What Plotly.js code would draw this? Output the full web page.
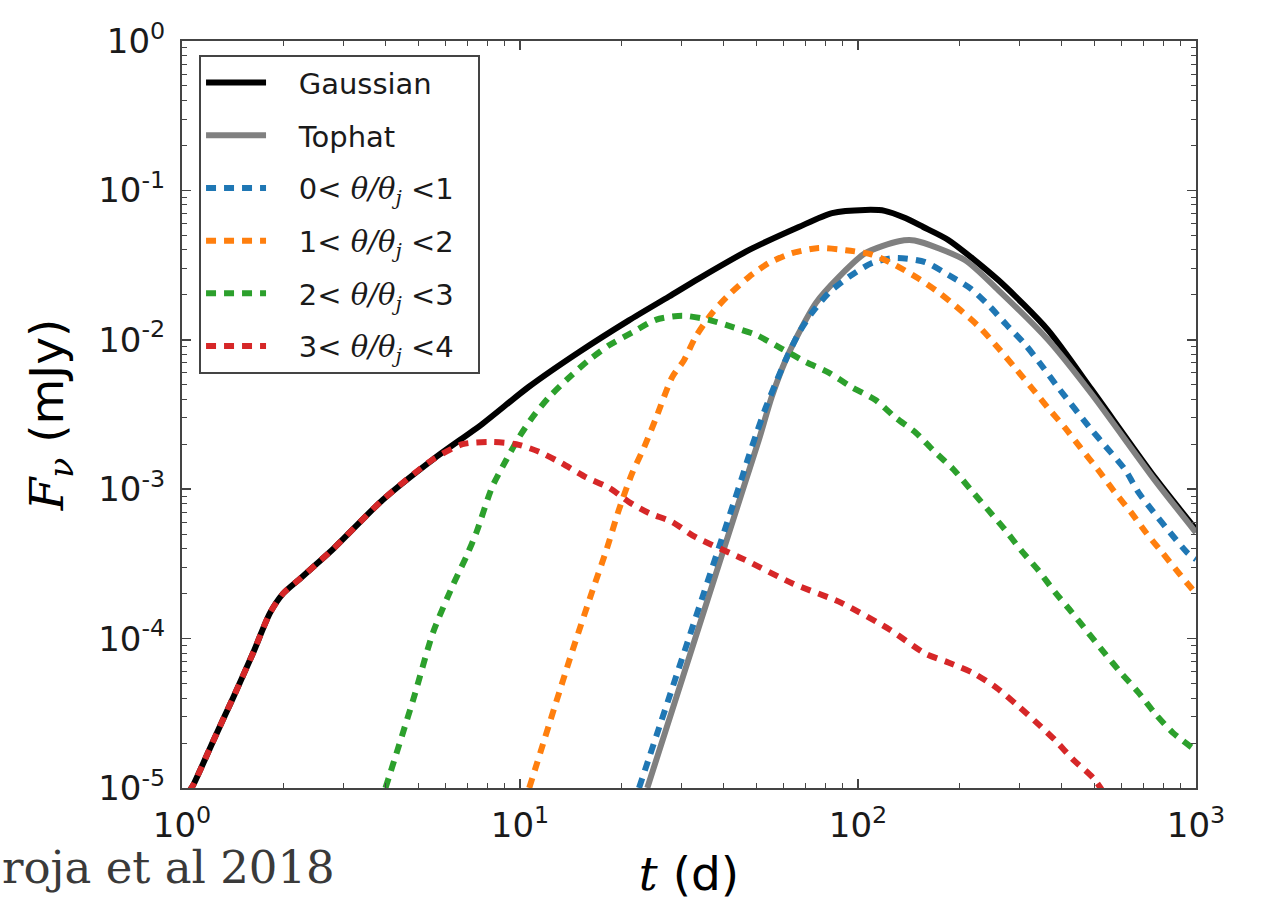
<!DOCTYPE html>
<html>
<head>
<meta charset="utf-8">
<script src="https://cdn.plot.ly/plotly-3.0.1.min.js"></script>
<style>
  html, body { margin: 0; padding: 0; background: #fff; }
  #chart { width: 1261px; height: 901px; }
</style>
</head>
<body>
<div id="chart"></div>
<script>
// ---- data (t in days, F_nu in mJy) ----
const tGauss = [1.05, 1.08, 1.24, 1.42, 1.62, 1.82, 1.99, 2.23, 2.5, 2.8, 3.93, 5.52, 7.76, 10.6, 15, 21, 27.6, 33.8, 47.5, 66.8, 83.8, 105, 120, 138, 156, 185, 260, 365, 490, 755, 1000];
const fGauss = [9.5e-6, 1.05e-5, 2.09e-5, 4.07e-5, 7.94e-5, 1.48e-4, 2.0e-4, 2.51e-4, 3.16e-4, 3.98e-4, 8.51e-4, 1.58e-3, 2.75e-3, 4.83e-3, 8.32e-3, 1.35e-2, 1.95e-2, 2.57e-2, 3.98e-2, 5.69e-2, 7.05e-2, 7.4e-2, 7.3e-2, 6.53e-2, 5.69e-2, 4.66e-2, 2.51e-2, 1.16e-2, 4.68e-3, 1.2e-3, 5.37e-4];

const tTop = [23.8, 46.6, 50.9, 55.6, 61.1, 66.8, 75, 87.7, 105, 132, 147, 207, 260, 365, 490, 755, 1000];
const fTop = [1e-5, 1.15e-3, 2.14e-3, 4.17e-3, 7.33e-3, 1.11e-2, 1.76e-2, 2.63e-2, 3.8e-2, 4.57e-2, 4.62e-2, 3.42e-2, 2.15e-2, 1.0e-2, 4.37e-3, 1.15e-3, 5.13e-4];

const tBin1 = [22.5, 45.4, 47.5, 50.2, 53.3, 57.1, 61.1, 66.8, 73, 81.9, 93.8, 110, 129, 158, 185, 215, 246, 275, 312, 349, 391, 490, 543, 617, 675, 747, 838, 947, 1000];
const fBin1 = [1e-5, 1.2e-3, 1.66e-3, 2.4e-3, 3.5e-3, 5.13e-3, 7.33e-3, 1.11e-2, 1.51e-2, 2.06e-2, 2.63e-2, 3.27e-2, 3.53e-2, 3.31e-2, 2.72e-2, 2.21e-2, 1.66e-2, 1.26e-2, 9.33e-3, 6.76e-3, 4.79e-3, 2.51e-3, 1.91e-3, 1.35e-3, 9.55e-4, 7.08e-4, 5.13e-4, 3.72e-4, 3.39e-4];

const tBin2 = [10.65, 14.3, 16.4, 18, 19.6, 21.5, 23.3, 25.2, 28.2, 30.6, 33.1, 37, 41.5, 47.5, 54.5, 63.8, 76.5, 92, 110, 129, 151, 175, 201, 230, 260, 292, 326, 365, 410, 454, 513, 575, 645, 711, 798, 896, 1000];
const fBin2 = [1e-5, 8.32e-5, 2.11e-4, 3.89e-4, 7.24e-4, 1.29e-3, 1.91e-3, 2.95e-3, 5.62e-3, 7.33e-3, 1.05e-2, 1.51e-2, 2.0e-2, 2.63e-2, 3.27e-2, 3.8e-2, 4.11e-2, 3.98e-2, 3.72e-2, 3.16e-2, 2.57e-2, 2.04e-2, 1.58e-2, 1.2e-2, 8.81e-3, 6.46e-3, 4.79e-3, 3.5e-3, 2.57e-3, 1.91e-3, 1.35e-3, 9.55e-4, 6.92e-4, 5.13e-4, 3.72e-4, 2.69e-4, 2.0e-4];

const tBin3 = [4.0, 4.83, 5.53, 6.31, 6.94, 7.43, 8.28, 9.12, 9.95, 10.9, 12.2, 14, 16, 18.4, 21.5, 25.2, 30.2, 36.2, 42.4, 49.9, 59, 70, 81.9, 95.7, 112.7, 129, 148, 167, 192, 215, 243, 272, 304, 341, 383, 428, 479, 538, 600, 675, 756, 855, 1000];
const fBin3 = [1e-5, 3.89e-5, 1.1e-4, 2.24e-4, 3.55e-4, 5.13e-4, 1.04e-3, 1.58e-3, 2.24e-3, 3.04e-3, 4.14e-3, 5.62e-3, 7.33e-3, 9.23e-3, 1.12e-2, 1.36e-2, 1.45e-2, 1.36e-2, 1.22e-2, 1.08e-2, 8.81e-3, 7.11e-3, 6.03e-3, 4.83e-3, 3.95e-3, 3.02e-3, 2.4e-3, 1.82e-3, 1.35e-3, 1.0e-3, 7.24e-4, 5.37e-4, 3.89e-4, 2.88e-4, 2.04e-4, 1.51e-4, 1.1e-4, 7.94e-5, 5.89e-5, 4.37e-5, 3.16e-5, 2.34e-5, 1.78e-5];

const tBin4 = [1.05, 1.08, 1.24, 1.42, 1.62, 1.82, 1.99, 2.23, 2.5, 2.8, 3.93, 5.52, 6.76, 8.1, 9.75, 11.4, 13.3, 15.7, 18.4, 21, 24.1, 28.2, 33, 46, 64, 89, 124, 158, 185, 219, 257, 294, 337, 383, 433, 496, 540];
const fBin4 = [9.5e-6, 1.05e-5, 2.09e-5, 4.07e-5, 7.94e-5, 1.48e-4, 2.0e-4, 2.51e-4, 3.16e-4, 3.98e-4, 8.51e-4, 1.58e-3, 2.0e-3, 2.07e-3, 2.0e-3, 1.78e-3, 1.49e-3, 1.2e-3, 1.02e-3, 8.22e-4, 6.92e-4, 6.03e-4, 4.79e-4, 3.39e-4, 2.34e-4, 1.74e-4, 1.15e-4, 7.94e-5, 6.92e-5, 5.89e-5, 4.68e-5, 3.63e-5, 2.75e-5, 2.09e-5, 1.55e-5, 1.17e-5, 8.91e-6];

const seriesNames = ["Gaussian", "Tophat"];
const binEdges = [0, 1, 2, 3, 4];
const xExponents = [0, 1, 2, 3];
const yExponents = [-5, -4, -3, -2, -1, 0];
const sourceNote = "roja et al 2018";

// ---- styling helpers ----
const pad = '\u00a0\u00a0\u00a0';
const tail = '\u00a0\u00a0';
const it = s => '<span style="font-family:DejaVu Serif;font-style:italic">' + s + '</span>';
const binLabel = (lo, hi) => pad + lo + '< ' + it('θ') + it('/') + it('θ') + '<sub>' + it('j') + '</sub> <' + hi + tail;

const dashStyle = '10px,8px';
const lw = 6;

const traces = [
  {x: tGauss, y: fGauss, name: pad + seriesNames[0], color: '#000000', dash: 'solid'},
  {x: tTop, y: fTop, name: pad + seriesNames[1], color: '#808080', dash: 'solid'},
  {x: tBin1, y: fBin1, name: binLabel(binEdges[0], binEdges[1]), color: '#1f77b4', dash: dashStyle},
  {x: tBin2, y: fBin2, name: binLabel(binEdges[1], binEdges[2]), color: '#ff7f0e', dash: dashStyle},
  {x: tBin3, y: fBin3, name: binLabel(binEdges[2], binEdges[3]), color: '#2ca02c', dash: dashStyle},
  {x: tBin4, y: fBin4, name: binLabel(binEdges[3], binEdges[4]), color: '#d62728', dash: dashStyle}
].map((s, i) => ({
  type: 'scatter', mode: 'lines', x: s.x, y: s.y, name: s.name,
  legendgroup: 'g' + i,
  line: {color: s.color, width: lw, dash: s.dash, shape: 'spline', smoothing: 0.7},
  hoverinfo: 'skip'
}));

function minorVals(exps) {
  const out = [];
  for (let i = 0; i < exps.length - 1; i++) {
    for (let k = 2; k <= 9; k++) out.push(k * Math.pow(10, exps[i]));
  }
  return out;
}

const axisCommon = {
  type: 'log',
  showgrid: false, zeroline: false,
  showline: true, linecolor: '#444', linewidth: 2, mirror: 'allticks',
  ticks: 'inside', ticklen: 9, tickwidth: 1.5, tickcolor: '#444',
  tickmode: 'array',
  tickfont: {family: 'DejaVu Sans', size: 34, color: '#1a1a1a'},
  ticklabelstandoff: 6
};

const layout = {
  width: 1261, height: 901,
  margin: {l: 182, r: 65, t: 41, b: 113},
  paper_bgcolor: '#ffffff', plot_bgcolor: '#ffffff',
  showlegend: true,
  xaxis: Object.assign({}, axisCommon, {
    range: [0, 3],
    tickvals: xExponents.map(e => Math.pow(10, e)),
    ticktext: xExponents.map(e => '10<sup>' + e + '</sup>'),
    minor: {tickmode: 'array', tickvals: minorVals(xExponents), ticks: 'inside', ticklen: 5, tickwidth: 1, tickcolor: '#444', showgrid: false},
    title: {text: it('t') + ' (d)', font: {family: 'DejaVu Sans', size: 47, color: '#000'}, standoff: 16},
    automargin: false
  }),
  yaxis: Object.assign({}, axisCommon, {
    range: [-5, 0],
    tickvals: yExponents.map(e => Math.pow(10, e)),
    ticktext: yExponents.map(e => '10<sup>' + e + '</sup>'),
    minor: {tickmode: 'array', tickvals: minorVals(yExponents), ticks: 'inside', ticklen: 5, tickwidth: 1, tickcolor: '#444', showgrid: false},
    title: {text: it('F') + '<sub>' + it('ν') + '</sub> (mJy)', font: {family: 'DejaVu Sans', size: 47, color: '#000'}, standoff: 20},
    ticklabelstandoff: 8,
    automargin: false
  }),
  legend: {
    x: 0.0168, y: 0.981, xanchor: 'left', yanchor: 'top',
    bgcolor: '#ffffff', bordercolor: '#444', borderwidth: 2,
    font: {family: 'DejaVu Sans', size: 29, color: '#1a1a1a'},
    traceorder: 'grouped', tracegroupgap: 12,
    itemwidth: 60
  },
  annotations: [{
    text: sourceNote, xref: 'paper', yref: 'paper',
    x: -0.1795, y: -0.106, xanchor: 'left', yanchor: 'middle',
    showarrow: false,
    font: {family: 'DejaVu Serif', size: 45, color: '#3a3a3a'}
  }]
};

Plotly.newPlot('chart', traces, layout, {displayModeBar: false, staticPlot: true});
</script>
</body>
</html>
